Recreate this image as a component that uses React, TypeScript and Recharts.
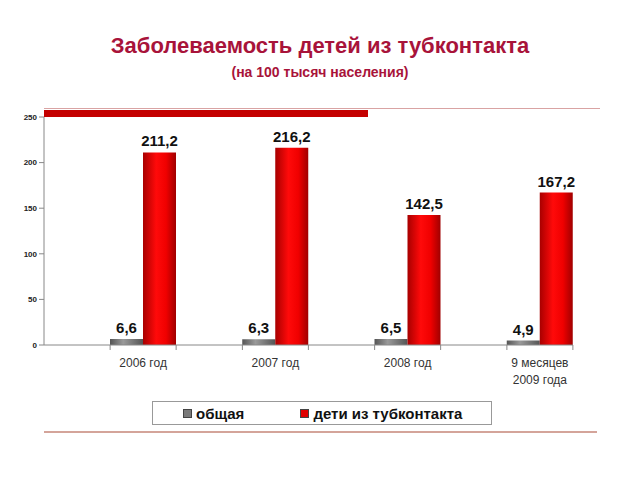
import React from 'react';
import { BarChart, Bar, XAxis, YAxis, LabelList } from 'recharts';

const categories = ['2006 год', '2007 год', '2008 год', '9 месяцев\n2009 года'];
const total = [6.6, 6.3, 6.5, 4.9];
const contacts = [211.2, 216.2, 142.5, 167.2];
const yTicks = [0, 50, 100, 150, 200, 250];
const legendItems = [
  { name: 'общая', color: '#7a7a7a' },
  { name: 'дети из тубконтакта', color: '#e00000' },
];

const data = categories.map((name, i) => ({ name, total: total[i], contacts: contacts[i] }));

const FONT = 'Arial, "Liberation Sans", sans-serif';
const fmt = (v: number) => String(v).replace('.', ',');

function CategoryTick({ x, y, payload }: any) {
  const lines = String(payload.value).split('\n');
  return (
    <g>
      <line x1={x - 33} x2={x - 33} y1={y - 8} y2={y - 3} stroke="#888" />
      <line x1={x + 33} x2={x + 33} y1={y - 8} y2={y - 3} stroke="#888" />
      {lines.map((l, i) => (
        <text key={i} x={x} y={y + 14 + i * 17} textAnchor="middle" fontSize={12} fill="#333" fontFamily={FONT}>
          {l}
        </text>
      ))}
    </g>
  );
}

export default function App() {
  return (
    <div style={{ position: 'relative', width: 640, height: 480, margin: -8, background: '#fff', overflow: 'hidden' }}>
      <div
        style={{
          position: 'absolute',
          top: 33,
          left: 0,
          width: 640,
          textAlign: 'center',
          fontFamily: FONT,
          fontWeight: 'bold',
          fontSize: 22,
          color: '#a8133a',
        }}
      >
        Заболеваемость детей из тубконтакта
      </div>
      <div
        style={{
          position: 'absolute',
          top: 64,
          left: 0,
          width: 640,
          textAlign: 'center',
          fontFamily: FONT,
          fontWeight: 'bold',
          fontSize: 14,
          color: '#a8133a',
        }}
      >
        (на 100 тысяч населения)
      </div>
      <div style={{ position: 'absolute', top: 108, left: 44, width: 556, height: 1, background: '#d9a3a3' }} />
      <div style={{ position: 'absolute', top: 110, left: 44, width: 324, height: 7, background: '#c40000' }} />
      <div style={{ position: 'absolute', top: 431, left: 44, width: 553, height: 2, background: '#d4a49a' }} />
      <div style={{ position: 'absolute', top: 0, left: 0 }}>
        <BarChart
          width={640}
          height={480}
          data={data}
          margin={{ top: 117, right: 67, bottom: 95, left: 14 }}
          barGap={0}
          barCategoryGap={33}
        >
          <defs>
            <linearGradient id="gRed" x1="0" y1="0" x2="1" y2="0">
              <stop offset="0%" stopColor="#a80000" />
              <stop offset="40%" stopColor="#ff0a0a" />
              <stop offset="70%" stopColor="#f00000" />
              <stop offset="100%" stopColor="#a00000" />
            </linearGradient>
            <linearGradient id="gGray" x1="0" y1="0" x2="1" y2="0">
              <stop offset="0%" stopColor="#555" />
              <stop offset="40%" stopColor="#9a9a9a" />
              <stop offset="100%" stopColor="#555" />
            </linearGradient>
          </defs>
          <XAxis
            dataKey="name"
            interval={0}
            height={40}
            padding={{ left: 33, right: -33 }}
            axisLine={{ stroke: '#888' }}
            tickLine={false}
            tick={<CategoryTick />}
          />
          <YAxis
            domain={[0, 250]}
            ticks={yTicks}
            width={30}
            tickSize={5}
            axisLine={{ stroke: '#888' }}
            tickLine={{ stroke: '#888' }}
            tick={{ fontSize: 8, fill: '#222', fontFamily: FONT, fontWeight: 'bold' }}
          />
          <Bar dataKey="total" name={legendItems[0].name} fill="url(#gGray)" isAnimationActive={false}>
            <LabelList
              dataKey="total"
              position="top"
              offset={6}
              formatter={fmt}
              style={{ fontSize: 15, fontWeight: 'bold', fill: '#111', fontFamily: FONT }}
            />
          </Bar>
          <Bar dataKey="contacts" name={legendItems[1].name} fill="url(#gRed)" isAnimationActive={false}>
            <LabelList
              dataKey="contacts"
              position="top"
              offset={6}
              formatter={fmt}
              style={{ fontSize: 15, fontWeight: 'bold', fill: '#111', fontFamily: FONT }}
            />
          </Bar>
        </BarChart>
      </div>
      <div
        style={{
          position: 'absolute',
          top: 401,
          left: 152,
          width: 338,
          height: 22,
          border: '1px solid #999',
          display: 'flex',
          alignItems: 'center',
          fontFamily: FONT,
          fontWeight: 'bold',
          fontSize: 15,
          color: '#111',
        }}
      >
        {legendItems.map((p, i) => (
          <div key={p.name} style={{ display: 'flex', alignItems: 'center', marginLeft: i === 0 ? 30 : 56 }}>
            <span
              style={{
                display: 'inline-block',
                width: 7,
                height: 7,
                background: p.color,
                border: '1px solid #444',
                marginRight: 4,
              }}
            />
            {p.name}
          </div>
        ))}
      </div>
    </div>
  );
}
